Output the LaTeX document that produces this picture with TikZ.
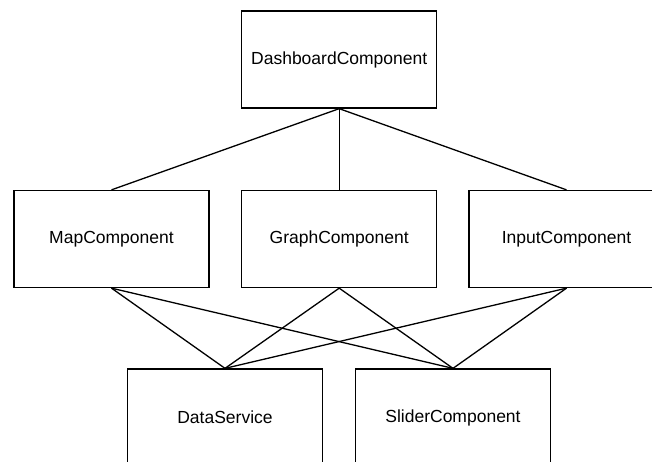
\documentclass[tikz,border=0pt]{standalone}
\usepackage{fontspec}
\setmainfont{Liberation Sans}
\begin{document}
\begin{tikzpicture}[x=1pt,y=-1pt,
  comp/.style={draw=black, line width=1.3pt, fill=white, rectangle,
    minimum width=195pt, minimum height=97pt, inner sep=0pt,
    font=\fontsize{17.5pt}{21pt}\selectfont},
  link/.style={draw=black, line width=1.3pt}]
\useasboundingbox (0,0) rectangle (652,461);
\clip (0,0) rectangle (652,461);
% top-level component
\node[comp] (dash) at (339.2,59.5) {DashboardComponent};
% child components
\node[comp] (map)   at (111.5,239) {MapComponent};
\node[comp] (graph) at (339.2,239) {GraphComponent};
\node[comp] (input) at (566.5,239) {InputComponent};
% shared dependencies
\node[comp] (data)   at (225,417.5) {DataService};
\node[comp] (slider) at (453,417.5) {SliderComponent};
% parent-child links
\draw[link] (dash.south) -- (map.north);
\draw[link] (dash.south) -- (graph.north);
\draw[link] (dash.south) -- (input.north);
% dependency links
\foreach \c in {map,graph,input}{
  \draw[link] (\c.south) -- (data.north);
  \draw[link] (\c.south) -- (slider.north);
}
\end{tikzpicture}
\end{document}
